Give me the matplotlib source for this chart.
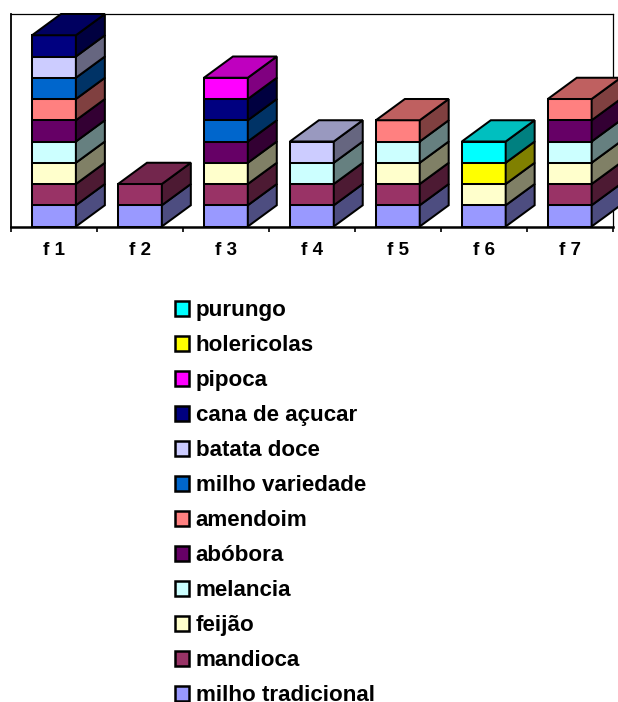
import matplotlib
matplotlib.use("Agg")
import matplotlib.pyplot as plt
from matplotlib.patches import Patch
from matplotlib.colors import to_rgb

plt.rcParams['font.family'] = ['Liberation Sans', 'DejaVu Sans']

categories = ['f 1', 'f 2', 'f 3', 'f 4', 'f 5', 'f 6', 'f 7']
milho_tradicional = [1, 1, 1, 1, 1, 1, 1]
mandioca          = [1, 1, 1, 1, 1, 0, 1]
feijao            = [1, 0, 1, 0, 1, 1, 1]
melancia          = [1, 0, 0, 1, 1, 0, 1]
abobora           = [1, 0, 1, 0, 0, 0, 1]
amendoim          = [1, 0, 0, 0, 1, 0, 1]
milho_variedade   = [1, 0, 1, 0, 0, 0, 0]
batata_doce       = [1, 0, 0, 1, 0, 0, 0]
cana_de_acucar    = [1, 0, 1, 0, 0, 0, 0]
pipoca            = [0, 0, 1, 0, 0, 0, 0]
holericolas       = [0, 0, 0, 0, 0, 1, 0]
purungo           = [0, 0, 0, 0, 0, 1, 0]

series = [
    ('milho tradicional', milho_tradicional, '#9999FF'),
    ('mandioca', mandioca, '#993366'),
    ('feijão', feijao, '#FFFFCC'),
    ('melancia', melancia, '#CCFFFF'),
    ('abóbora', abobora, '#660066'),
    ('amendoim', amendoim, '#FF8080'),
    ('milho variedade', milho_variedade, '#0066CC'),
    ('batata doce', batata_doce, '#CCCCFF'),
    ('cana de açucar', cana_de_acucar, '#000080'),
    ('pipoca', pipoca, '#FF00FF'),
    ('holericolas', holericolas, '#FFFF00'),
    ('purungo', purungo, '#00FFFF'),
]

W, H = 618, 702
L, R, T, B = 11, 612.7, 14, 226.5
BAR = 0.51
DX, DY = 0.337, 1.0
LW = 1.45


def shade(c, f):
    return tuple(v * f for v in to_rgb(c))


fig = plt.figure(figsize=(W / 100, H / 100), dpi=100, facecolor='white')
ax = fig.add_axes([L / W, 1 - B / H, (R - L) / W, (B - T) / H])
ax.set_xlim(0, len(categories))
ax.set_ylim(0, 10)
ax.set_yticks([])
ax.set_xticks([i + 0.5 for i in range(len(categories))], categories)
ax.set_xticks(range(len(categories) + 1), minor=True)
ax.tick_params(axis='x', which='major', length=0, pad=11.5, labelsize=13.5)
for lab in ax.get_xticklabels():
    lab.set_fontweight('bold')
ax.tick_params(axis='x', which='minor', length=3.5, width=1.2)
ax.spines['bottom'].set_linewidth(1.8)
ax.spines['left'].set_linewidth(1.3)
ax.spines['top'].set_linewidth(0.9)
ax.spines['right'].set_linewidth(0.9)

for i in range(len(categories)):
    x0 = i + 0.5 - BAR / 2
    x1 = x0 + BAR
    base = 0
    top_colour = None
    for name, vals, col in series:
        v = vals[i]
        if not v:
            continue
        y0, y1 = base, base + v
        ax.bar(x0, v, BAR, bottom=y0, align='edge', color=col, edgecolor='black',
               linewidth=LW, clip_on=False, zorder=3)
        ax.fill([x1, x1 + DX, x1 + DX, x1], [y0, y0 + DY, y1 + DY, y1],
                facecolor=shade(col, 0.5), edgecolor='black', linewidth=LW,
                clip_on=False, zorder=3)
        base = y1
        top_colour = col
    ax.fill([x0, x1, x1 + DX, x0 + DX], [base, base, base + DY, base + DY],
            facecolor=shade(top_colour, 0.75), edgecolor='black', linewidth=LW,
            clip_on=False, zorder=3)

handles = [Patch(facecolor=c, edgecolor='black', linewidth=1.8, label=n)
           for n, _, c in reversed(series)]
fig.legend(handles=handles, loc='upper left', bbox_to_anchor=(175 / W, 1 - 300.3 / H),
           bbox_transform=fig.transFigure, frameon=False, ncol=1,
           prop={'weight': 'bold', 'size': 16.1}, handlelength=0.62, handleheight=0.62,
           handletextpad=0.31, labelspacing=0.626, borderpad=0, borderaxespad=0)

fig.savefig('out.png', dpi=100)
